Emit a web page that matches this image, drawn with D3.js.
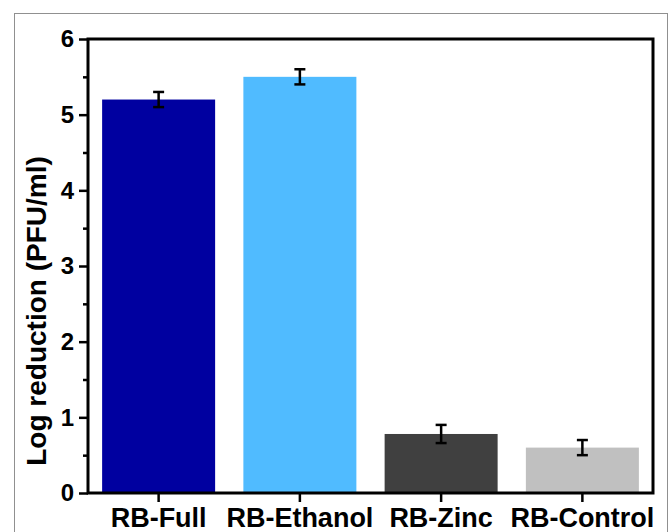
<!DOCTYPE html>
<html>
<head>
<meta charset="utf-8">
<script src="https://cdn.jsdelivr.net/npm/d3@7"></script>
<style>
  body { margin: 0; background: #fff; }
  svg text { font-family: Arial, "Liberation Sans", sans-serif; font-weight: bold; }
</style>
</head>
<body>
<div id="chart"></div>
<script>
// data
const groups = ["RB-Full", "RB-Ethanol", "RB-Zinc", "RB-Control"];
const values = [5.2, 5.5, 0.78, 0.6];
const errors = [0.1, 0.1, 0.12, 0.1];
const colors = ["#0000a0", "#50bbff", "#404040", "#c0c0c0"];
const yTicks = [0, 1, 2, 3, 4, 5, 6];
const yMinorTicks = [0.5, 1.5, 2.5, 3.5, 4.5, 5.5];

const W = 669, H = 532;
const margin = { top: 39, right: 16, bottom: 39, left: 88 };
const width = W - margin.left - margin.right;
const height = H - margin.top - margin.bottom;

const root = d3.select("#chart").append("svg")
  .attr("width", W)
  .attr("height", H);

// thin grey border round the figure
root.append("rect")
  .attr("x", 14.5).attr("y", 13.5)
  .attr("width", 653).attr("height", 530)
  .attr("fill", "none")
  .attr("stroke", "#909090")
  .attr("stroke-width", 1);

const svg = root.append("g")
  .attr("transform", `translate(${margin.left},${margin.top})`);

const x = d3.scaleBand()
  .domain(groups)
  .range([0, width])
  .paddingInner(0.2)
  .paddingOuter(0.1);

const y = d3.scaleLinear()
  .domain([0, 6])
  .range([height, 0]);

// bars
svg.selectAll(".bar")
  .data(groups)
  .enter()
  .append("rect")
  .attr("class", "bar")
  .attr("x", d => x(d))
  .attr("y", (d, i) => y(values[i]))
  .attr("width", x.bandwidth())
  .attr("height", (d, i) => y(0) - y(values[i]))
  .attr("fill", (d, i) => colors[i]);

// error bars
const eb = svg.selectAll(".err")
  .data(groups)
  .enter()
  .append("g")
  .attr("class", "err")
  .attr("stroke", "#000")
  .attr("stroke-width", 2.5);
const cx = d => x(d) + x.bandwidth() / 2;
eb.append("line")
  .attr("x1", cx).attr("x2", cx)
  .attr("y1", (d, i) => y(values[i] + errors[i]))
  .attr("y2", (d, i) => y(values[i] - errors[i]));
eb.append("line")
  .attr("x1", d => cx(d) - 5.5).attr("x2", d => cx(d) + 5.5)
  .attr("y1", (d, i) => y(values[i] + errors[i]))
  .attr("y2", (d, i) => y(values[i] + errors[i]));
eb.append("line")
  .attr("x1", d => cx(d) - 5.5).attr("x2", d => cx(d) + 5.5)
  .attr("y1", (d, i) => y(values[i] - errors[i]))
  .attr("y2", (d, i) => y(values[i] - errors[i]));

// minor y ticks
svg.append("g")
  .call(d3.axisLeft(y).tickValues(yMinorTicks).tickSize(5).tickFormat(""))
  .call(g => g.select(".domain").remove())
  .selectAll("line").attr("stroke-width", 2.5);

// y axis
const yAxis = svg.append("g")
  .call(d3.axisLeft(y).tickValues(yTicks).tickSize(9).tickPadding(5).tickFormat(d3.format("d")));
yAxis.select(".domain").remove();
yAxis.selectAll("line").attr("stroke-width", 2.5);
yAxis.selectAll("text")
  .attr("font-size", "24px")
  .attr("fill", "#000");

// x axis
const xAxis = svg.append("g")
  .attr("transform", `translate(0,${height})`)
  .call(d3.axisBottom(x).tickSize(9).tickPadding(6));
xAxis.select(".domain").remove();
xAxis.selectAll("line").attr("stroke-width", 2.5);
xAxis.selectAll("text")
  .attr("font-size", "27px")
  .attr("fill", "#000");

// frame
svg.append("rect")
  .attr("x", 0).attr("y", 0)
  .attr("width", width).attr("height", height)
  .attr("fill", "none")
  .attr("stroke", "#000")
  .attr("stroke-width", 3);

// y label
svg.append("text")
  .attr("transform", "rotate(-90)")
  .attr("x", -(311 - margin.top))
  .attr("y", -margin.left + 46)
  .attr("text-anchor", "middle")
  .attr("font-size", "28px")
  .attr("fill", "#000")
  .text("Log reduction (PFU/ml)");
</script>
</body>
</html>
